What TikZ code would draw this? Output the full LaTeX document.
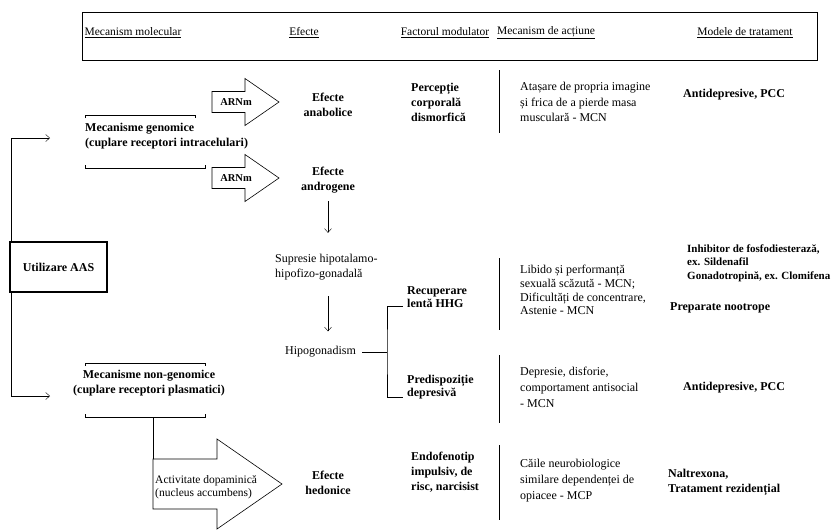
\documentclass[tikz,border=0pt]{standalone}
\usepackage{fontspec}
\setmainfont{Liberation Serif}
\usetikzlibrary{arrows.meta}

\begin{document}
\begin{tikzpicture}[x=1pt,y=-1pt,
    every node/.style={inner sep=0pt},
    head/.style={font=\fontsize{11.5}{13}\selectfont},
    bold/.style={font=\fontsize{12}{15}\selectfont\bfseries,align=left,anchor=west},
    boldc/.style={font=\fontsize{12}{15}\selectfont\bfseries,align=center},
    plain/.style={font=\fontsize{12}{15}\selectfont,align=left,anchor=west},
    conn/.style={-{Straight Barb[length=4pt,width=7pt]}},
    blockarrow/.style={draw,line width=0.6pt}]
  % --- column x positions (px of the sheet)
  \def\xF{411}   % factorul modulator
  \def\xM{520}   % mecanism de actiune
  \def\xT{683}   % modele de tratament
  \def\xS{499}   % separator lines
  \def\xE{328}   % efecte

  \useasboundingbox (0,0) rectangle (834,531);

  %---------------------------------------
  % header
  \draw (82,12) rectangle (817,60);
  \node[head] (hmol) at (133,33) {\underline{Mecanism molecular}};
  \node[head] (hef)  at (304,33) {\underline{Efecte}};
  \node[head] (hfac) at (445,33) {\underline{Factorul modulator}};
  \node[head] (hmec) at (546,33) {\underline{Mecanism de acțiune}};
  \node[head] (htrt) at (745,33) {\underline{Modele de tratament}};

  %---------------------------------------
  % left: AAS use and the two mechanisms
  \node[draw,line width=1.6pt,minimum width=97pt,minimum height=50pt,
        font=\fontsize{12}{14}\selectfont\bfseries] (aas) at (58.5,267) {Utilizare AAS};
  \coordinate (genin) at (50,138);
  \coordinate (ngenin) at (50,396);
  \draw[conn] ([xshift=2pt]aas.north west) |- (genin);
  \draw[conn] ([xshift=2pt]aas.south west) |- (ngenin);

  \node[bold] (gen) at (85,136) {Mecanisme genomice\\(cuplare receptori intracelulari)};
  \draw (85,118) -- (85,115) -- (195,115) -- (195,118);
  \draw (85,165) -- (85,168) -- (205,168) -- (205,165);

  \node[boldc] (ngen) at (149,383) {Mecanisme non-genomice\\(cuplare receptori plasmatici)};
  \draw (85,366) -- (85,363) -- (205,363) -- (205,366);
  \draw (85,414) -- (85,417) -- (205,417) -- (205,414);

  %---------------------------------------
  % ARNm arrows
  \foreach \yc/\nm in {102/arna,178/arnb}{
    \draw[blockarrow] (212,\yc-10.5) -- (245,\yc-10.5) -- (245,\yc-23.5) -- (279,\yc)
      -- (245,\yc+23.5) -- (245,\yc+10.5) -- (212,\yc+10.5) -- cycle;
    \node[font=\fontsize{10.5}{12}\selectfont\bfseries] (\nm) at (236,\yc) {ARNm};
  }

  % dopamine arrow
  \coordinate (ngbot) at (153,417);
  \coordinate (dopatop) at (153,459);
  \draw (ngbot) -- (dopatop);
  \draw[blockarrow] (153,459) -- (217,459) -- (217,439) -- (282,484) -- (217,529)
    -- (217,509) -- (153,509) -- cycle;
  \node[plain,font=\fontsize{11.5}{13}\selectfont] (dopa) at (155,487)
    {Activitate dopaminică\\(nucleus accumbens)};

  %---------------------------------------
  % effects
  \node[boldc] (anab)  at (\xE,105) {Efecte\\anabolice};
  \node[boldc] (andro) at (\xE,180) {Efecte\\androgene};
  \node[boldc] (hedo)  at (\xE,483) {Efecte\\hedonice};
  \node[plain] (supr) at (275,267) {Supresie hipotalamo-\\hipofizo-gonadală};
  \node[plain] (hipo) at (285,352) {Hipogonadism};

  \draw[conn,shorten <=8pt,shorten >=21pt] (andro) -- (andro |- supr.north);
  \draw[conn,shorten <=16pt,shorten >=15pt] (andro |- supr.south) -- (andro |- hipo.north);

  %---------------------------------------
  % factorul modulator
  \node[bold] (perc) at (\xF,102) {Percepție\\corporală\\dismorfică};
  \node[bold,font=\fontsize{12}{13.5}\selectfont\bfseries] (recup) at (407,297) {Recuperare\\lentă HHG};
  \node[bold,font=\fontsize{12}{13.5}\selectfont\bfseries] (predisp) at (407,387) {Predispoziție\\depresivă};
  \node[bold] (endo) at (\xF,472) {Endofenotip\\impulsiv, de\\risc, narcisist};

  % hypogonadism branch
  \coordinate (brk) at (387,352);
  \draw ([xshift=6pt]hipo.east) -- (brk);
  \draw ([xshift=-4pt,yshift=2pt]recup.south west) -| (brk)
    |- ([xshift=-4pt,yshift=2pt]predisp.south west);

  % separators
  \foreach \ya/\yb in {70/133,258/330,355/423,445/520}
    \draw (\xS,\ya) -- (\xS,\yb);

  %---------------------------------------
  % mecanism de actiune
  \node[plain,font=\fontsize{12}{15.5}\selectfont] (meca) at (\xM,102)
    {Atașare de propria imagine\\și frica de a pierde masa\\musculară - MCN};
  \node[plain,font=\fontsize{12}{13.7}\selectfont] (mecb) at (\xM,290)
    {Libido și performanță\\sexuală scăzută - MCN;\\Dificultăți de concentrare,\\Astenie - MCN};
  \node[plain,font=\fontsize{12}{16}\selectfont] (mecc) at (\xM,387)
    {Depresie, disforie,\\comportament antisocial\\- MCN};
  \node[plain,font=\fontsize{12}{16}\selectfont] (mecd) at (\xM,481)
    {Căile neurobiologice\\similare dependenței de\\opiacee - MCP};

  %---------------------------------------
  % modele de tratament
  \node[bold] (trta) at (\xT,95) {Antidepresive, PCC};
  \node[bold,font=\fontsize{11}{13.5}\selectfont\bfseries] (trtb) at (687,263)
    {Inhibitor de fosfodiesterază,\\ex. Sildenafil\\Gonadotropină, ex. Clomifena};
  \node[bold] (trtc) at (670,308) {Preparate nootrope};
  \node[bold] (trtd) at (\xT,388) {Antidepresive, PCC};
  \node[bold] (trte) at (668,482) {Naltrexona,\\Tratament rezidențial};
\end{tikzpicture}
\end{document}
